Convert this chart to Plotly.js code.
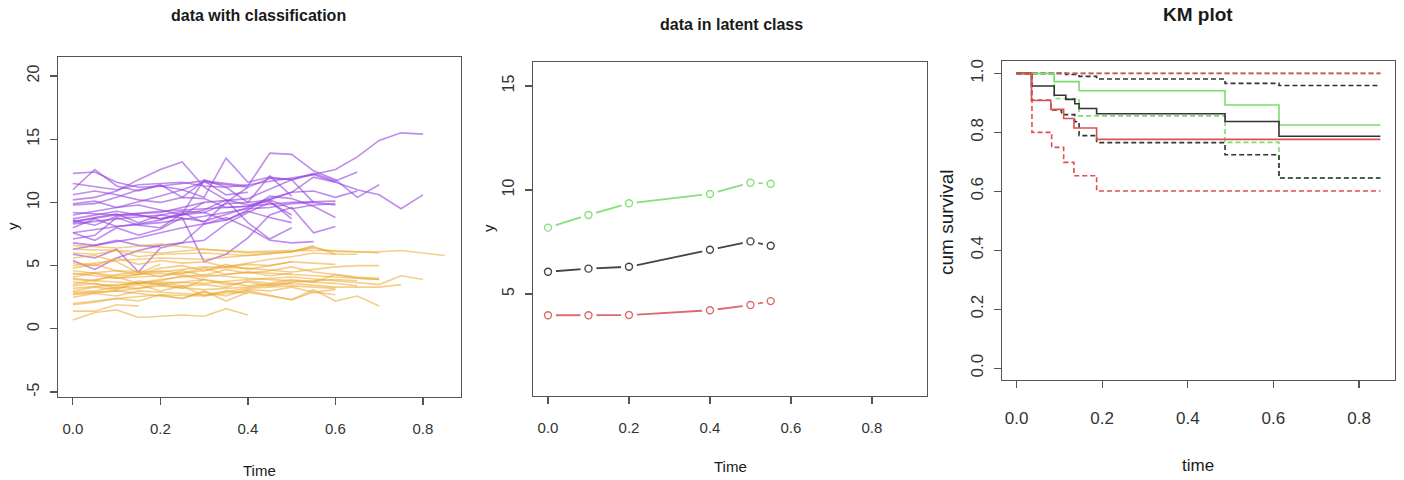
<!DOCTYPE html>
<html>
<head>
<meta charset="utf-8">
<script src="https://cdn.plot.ly/plotly-3.0.1.min.js"></script>
<style>html,body{margin:0;padding:0;background:#fff;}#chart{width:1404px;height:480px;}</style>
</head>
<body>
<div id="chart"></div>
<script>
// ---------- Panel 1: data with classification ----------
const purpleT = [
  [0,0.1,0.2,0.3,0.4,0.5,0.55,0.6,0.65,0.7,0.75,0.8],
  [0,0.05,0.1,0.15,0.2,0.25,0.3,0.35,0.4,0.45,0.5,0.55,0.6,0.65],
  [0,0.05,0.1,0.15,0.2,0.25,0.3,0.35,0.4],
  [0,0.05,0.1,0.15,0.2,0.25,0.3,0.35,0.4,0.45,0.5],
  [0,0.1,0.2,0.25,0.3,0.35,0.4,0.45,0.5,0.55,0.6],
  [0,0.05,0.1,0.15,0.2,0.3,0.4,0.45,0.5,0.55,0.6,0.65,0.7],
  [0,0.1,0.2,0.3,0.4,0.5,0.55,0.6,0.65,0.7,0.75,0.8],
  [0,0.05,0.1,0.15,0.2,0.25,0.3,0.35,0.4,0.45,0.5,0.55,0.6],
  [0,0.05,0.1,0.15,0.2,0.25,0.3,0.35,0.4,0.45,0.5,0.55,0.6],
  [0,0.05,0.1,0.15,0.2,0.25,0.3,0.35,0.4,0.45,0.5],
  [0,0.05,0.1,0.15,0.2,0.25,0.3,0.35,0.4,0.45,0.5,0.55,0.6],
  [0,0.05,0.1,0.15,0.2,0.25,0.3,0.35,0.4,0.45,0.5,0.55],
  [0,0.05,0.1,0.15,0.2,0.3,0.35,0.4,0.45,0.5],
  [0,0.05,0.1,0.2,0.3,0.35,0.4,0.45,0.5],
  [0,0.05,0.1,0.15,0.2,0.25,0.3,0.35,0.4,0.45,0.5],
  [0,0.05,0.1,0.15,0.2,0.25,0.3,0.35,0.4],
  [0,0.1,0.15,0.2,0.25,0.3,0.35,0.4,0.5,0.55,0.6],
  [0,0.05,0.1,0.15,0.2,0.25,0.3],
  [0,0.05,0.1,0.15,0.2],
  [0,0.05,0.1,0.2,0.3,0.4,0.5,0.6],
  [0,0.1,0.2,0.3,0.4,0.45,0.5,0.55],
  [0,0.05,0.1,0.15,0.2,0.25,0.3,0.35,0.4,0.45,0.5,0.55,0.6,0.65]
];
const purpleY = [
  [8.5,9.0,9.2,10.0,10.3,11.8,12.2,12.6,13.6,14.9,15.5,15.4],
  [12.3,12.4,11.6,11.2,11.3,11.0,11.6,11.4,11.2,11.9,11.8,12.3,11.7,12.4],
  [11.0,12.6,11.3,10.9,11.4,10.4,11.7,10.6,10.8],
  [10.2,10.4,10.9,11.8,12.6,13.2,11.2,10.2,9.8,10.1,8.7],
  [9.0,9.6,10.5,11.0,10.4,13.5,11.6,12.0,11.8,10.0,9.8],
  [9.8,9.9,10.4,11.0,11.3,11.7,11.3,13.9,13.8,12.5,11.8,10.4,11.4],
  [8.3,8.7,9.0,8.5,9.6,10.8,12.0,11.6,11.0,10.6,9.5,10.6],
  [9.9,10.1,9.6,9.8,9.4,9.0,9.2,9.9,10.0,10.2,9.5,9.8,9.9],
  [8.4,8.8,9.1,8.4,9.0,9.3,9.2,8.6,9.4,10.5,10.3,9.7,8.8],
  [5.9,5.6,6.3,4.5,6.4,6.8,8.3,8.6,9.3,8.8,8.4],
  [7.6,7.0,8.0,7.4,7.9,8.8,5.3,5.9,7.2,9.0,9.6,7.6,8.1],
  [6.8,6.6,6.9,7.2,7.6,8.0,8.3,8.8,8.0,7.0,6.8,6.9],
  [5.4,4.7,5.6,6.2,6.6,7.0,8.3,9.2,10.0,9.0],
  [8.7,9.0,9.3,8.7,9.4,10.2,8.4,7.1,8.0],
  [7.1,7.4,8.8,8.2,8.0,9.1,11.8,11.2,10.0,12.1,10.5],
  [8.0,8.7,8.1,8.3,8.6,9.2,8.4,10.0,11.2],
  [11.5,11.0,11.4,11.5,11.6,11.3,11.2,11.4,11.9,12.2,11.6],
  [8.6,8.2,8.9,9.0,8.7,9.0,10.0],
  [6.3,6.6,7.0,6.6,6.5],
  [9.2,9.1,9.0,9.3,9.5,9.7,10.0,10.1],
  [7.6,8.1,8.4,8.9,9.5,9.6,9.9,10.0],
  [10.6,10.9,10.6,10.2,10.0,10.4,10.3,9.6,9.7,10.3,10.8,10.9,10.4,10.9]
];
const orangeT = [
  [0,0.1,0.2,0.3,0.4,0.5,0.55,0.6,0.7,0.75,0.8,0.85],
  [0,0.1,0.2,0.3,0.4,0.5,0.6,0.7,0.75,0.8],
  [0,0.1,0.2,0.3,0.4,0.5,0.6,0.7,0.75],
  [0,0.1,0.2,0.3,0.4,0.5,0.6,0.65,0.7],
  [0,0.1,0.2,0.3,0.4,0.5,0.6,0.7],
  [0,0.1,0.2,0.3,0.4,0.5,0.55,0.6,0.65,0.7],
  [0,0.1,0.2,0.3,0.4,0.5,0.55,0.6,0.65],
  [0,0.05,0.1,0.15,0.2,0.25,0.3,0.35,0.4],
  [0,0.05,0.1,0.15],
  [0,0.05,0.1,0.15,0.2,0.3,0.4,0.5,0.6],
  [0,0.1,0.2,0.3,0.4,0.5,0.6,0.65],
  [0,0.05,0.1,0.15,0.2,0.25,0.3,0.35,0.4,0.45,0.5,0.55,0.6],
  [0,0.05,0.1,0.15,0.2,0.25,0.3,0.35,0.4,0.45,0.5],
  [0,0.05,0.1,0.15,0.2,0.25,0.3,0.35,0.4,0.45,0.5,0.55,0.6,0.65,0.7],
  [0,0.05,0.1,0.15,0.2,0.25,0.3,0.35,0.4],
  [0,0.1,0.2,0.25,0.3,0.35,0.4,0.5,0.55,0.6],
  [0,0.05,0.1,0.15,0.2,0.3,0.4,0.5,0.55],
  [0,0.05,0.1,0.15,0.2,0.25,0.3,0.35,0.4,0.45,0.5],
  [0,0.1,0.2,0.3,0.4,0.5,0.6,0.65],
  [0,0.05,0.1,0.15,0.2],
  [0,0.05,0.1,0.15,0.2,0.25,0.3,0.35,0.4,0.45,0.5,0.55,0.6,0.65,0.7],
  [0,0.1,0.2,0.3,0.35,0.4,0.5,0.6],
  [0,0.05,0.1,0.15,0.2,0.25,0.3],
  [0,0.05,0.1,0.15,0.2,0.25,0.3,0.35,0.4,0.45,0.5,0.55,0.6],
  [0,0.1,0.2,0.3,0.4,0.5,0.6,0.7],
  [0,0.05,0.1,0.15,0.2,0.25,0.3,0.35,0.4,0.45,0.5]
];
const orangeY = [
  [5.0,5.4,5.6,5.5,5.8,6.1,6.4,6.1,6.1,6.2,6.0,5.8],
  [3.2,3.5,3.7,3.6,3.9,4.1,3.8,3.5,4.2,3.9],
  [2.8,3.0,3.4,3.1,3.3,3.6,3.3,3.3,3.5],
  [4.3,4.6,4.5,4.9,4.8,4.5,4.9,5.0,5.0],
  [4.6,4.2,4.4,4.1,4.5,4.3,4.1,3.9],
  [2.0,2.4,2.7,2.6,3.0,2.3,3.1,2.2,2.6,1.8],
  [6.6,6.4,6.7,6.3,6.0,6.1,6.5,5.9,5.9],
  [0.7,1.3,1.5,0.9,1.0,1.1,1.0,1.6,1.1],
  [1.4,1.4,1.9,1.8],
  [2.5,2.8,2.6,3.0,2.9,2.7,3.2,3.4,3.2],
  [3.7,3.4,3.9,4.3,4.0,3.8,3.6,3.4],
  [5.2,5.0,5.6,5.1,5.4,5.2,5.3,4.9,5.2,5.5,5.7,6.0,5.9],
  [3.0,3.3,3.1,3.8,3.5,3.2,3.9,3.5,3.7,3.4,3.6],
  [4.0,3.8,4.3,4.5,4.1,4.6,4.2,4.7,4.4,4.6,4.9,4.5,4.3,4.1,4.0],
  [3.4,3.6,3.2,3.5,3.0,3.4,2.6,3.0,2.8],
  [2.7,3.0,2.6,2.4,3.0,2.2,2.9,2.3,2.9,2.7],
  [6.0,5.9,6.2,5.7,5.9,6.0,5.8,6.1,6.6],
  [4.8,5.1,4.6,4.3,4.8,5.0,4.6,4.9,5.1,5.0,5.3],
  [3.9,3.7,3.5,3.9,3.4,3.7,3.9,3.8],
  [5.6,5.8,5.3,4.4,5.1],
  [2.9,3.0,3.3,3.2,3.6,3.4,3.5,3.3,3.8,3.6,3.9,3.7,4.3,4.0,3.9],
  [4.4,4.0,4.2,4.6,5.1,4.7,5.3,5.1],
  [3.5,3.9,4.1,3.6,3.8,4.2,3.9],
  [1.9,2.1,2.4,2.2,2.7,2.4,2.9,2.6,3.1,3.0,3.3,2.9,3.1],
  [6.3,6.2,6.0,6.3,6.1,6.2,6.2,6.0],
  [4.1,4.4,4.0,4.3,4.6,4.4,4.8,4.3,4.5,4.2,4.4]
];
const leftYTicks = [-5, 0, 5, 10, 15, 20];
const leftYLabels = ['-5', '0', '5', '10', '15', '20'];

// ---------- Panel 2: data in latent class ----------
const latentTime = [0, 0.1, 0.2, 0.4, 0.5, 0.55];
const latentGreen = [8.19, 8.80, 9.36, 9.81, 10.35, 10.30];
const latentBlack = [6.07, 6.22, 6.31, 7.13, 7.53, 7.32];
const latentRed   = [3.98, 3.98, 3.99, 4.22, 4.47, 4.66];

// ---------- Panel 3: KM plot ----------
const kmGreenT   = [0, 0.088, 0.146, 0.487, 0.613, 0.85];
const kmGreenS   = [1.0, 0.972, 0.941, 0.893, 0.825, 0.825];
const kmGreenLoT = [0, 0.088, 0.146, 0.487, 0.613, 0.85];
const kmGreenLo  = [1.0, 0.915, 0.856, 0.766, 0.645, 0.645];
const kmGreenHiT = [0, 0.85];
const kmGreenHi  = [1.0, 1.0];

const kmBlackT   = [0, 0.035, 0.088, 0.115, 0.136, 0.146, 0.187, 0.487, 0.613, 0.85];
const kmBlackS   = [1.0, 0.957, 0.926, 0.912, 0.897, 0.881, 0.863, 0.837, 0.787, 0.787];
const kmBlackLoT = [0, 0.035, 0.08, 0.105, 0.136, 0.146, 0.187, 0.487, 0.613, 0.85];
const kmBlackLo  = [1.0, 0.909, 0.876, 0.860, 0.836, 0.789, 0.765, 0.724, 0.645, 0.645];
const kmBlackHiT = [0, 0.115, 0.146, 0.187, 0.487, 0.613, 0.85];
const kmBlackHi  = [1.0, 0.996, 0.99, 0.981, 0.966, 0.959, 0.959];

const kmRedT   = [0, 0.035, 0.08, 0.11, 0.134, 0.187, 0.85];
const kmRedS   = [1.0, 0.908, 0.878, 0.847, 0.815, 0.776, 0.776];
const kmRedLoT = [0, 0.036, 0.082, 0.11, 0.134, 0.187, 0.85];
const kmRedLo  = [1.0, 0.80, 0.749, 0.698, 0.653, 0.601, 0.601];
const kmRedHiT = [0, 0.85];
const kmRedHi  = [1.0, 1.0];

const xTicks = [0, 0.2, 0.4, 0.6, 0.8];

// ---------- styling ----------
const SANS = "'Liberation Sans', Arial, Helvetica, sans-serif";
const FRAME = '#555555';
const PURPLE = 'rgba(150,70,225,0.62)';
const ORANGE = 'rgba(235,165,45,0.55)';
const G2 = '#86e07a', K2 = '#444444', R2 = '#dd6a6a';
const G3 = '#7ddc6e', K3 = '#333333', R3 = '#dd5050';

const traces = [];
purpleT.forEach((t, i) => traces.push({x: t, y: purpleY[i], xaxis: 'x', yaxis: 'y', mode: 'lines',
  line: {color: PURPLE, width: 1.6}, hoverinfo: 'skip', showlegend: false}));
orangeT.forEach((t, i) => traces.push({x: t, y: orangeY[i], xaxis: 'x', yaxis: 'y', mode: 'lines',
  line: {color: ORANGE, width: 1.6}, hoverinfo: 'skip', showlegend: false}));

// R type="b": line segments with gaps around open circles
[[latentGreen, G2], [latentBlack, K2], [latentRed, R2]].forEach(([ys, c]) => {
  traces.push({x: latentTime, y: ys, xaxis: 'x2', yaxis: 'y2', mode: 'lines+markers',
    line: {color: c, width: 1.8},
    marker: {symbol: 'circle', size: 16, color: '#ffffff', line: {width: 0}},
    showlegend: false, hoverinfo: 'skip'});
  traces.push({x: latentTime, y: ys, xaxis: 'x2', yaxis: 'y2', mode: 'markers',
    marker: {symbol: 'circle-open', size: 7, color: c, line: {width: 1.4, color: c}}, showlegend: false, hoverinfo: 'skip'});
});

function km(x, y, color, dash) {
  return {x: x, y: y, xaxis: 'x3', yaxis: 'y3', mode: 'lines',
    line: {shape: 'hv', color: color, width: 1.6, dash: dash || 'solid'}, showlegend: false, hoverinfo: 'skip'};
}
traces.push(km(kmGreenLoT, kmGreenLo, G3, '5px,3px'));
traces.push(km(kmGreenHiT, kmGreenHi, G3, '5px,3px'));
traces.push(km(kmBlackLoT, kmBlackLo, K3, '5px,3px'));
traces.push(km(kmBlackHiT, kmBlackHi, K3, '5px,3px'));
traces.push(km(kmRedLoT, kmRedLo, R3, '5px,3px'));
traces.push(km(kmRedHiT, kmRedHi, R3, '5px,3px'));
traces.push(km(kmGreenT, kmGreenS, G3));
traces.push(km(kmBlackT, kmBlackS, K3));
traces.push(km(kmRedT, kmRedS, R3));

const W = 1404, H = 480;
function dx(a, b) { return [a / W, b / W]; }
function dy(top, bottom) { return [1 - bottom / H, 1 - top / H]; }

function xax(domain, range, anchor, fs, standoff) {
  return {domain: domain, range: range, anchor: anchor, tickvals: xTicks, tickformat: '.1f',
    showline: true, mirror: true, linecolor: FRAME, linewidth: 1.4, ticks: 'outside', ticklen: 7,
    tickwidth: 1.2, tickcolor: FRAME, showgrid: false, zeroline: false, ticklabelstandoff: standoff,
    tickfont: {family: SANS, size: fs, color: '#333'}, fixedrange: true};
}
function yax(domain, range, anchor, vals, labels, fs) {
  return {domain: domain, range: range, anchor: anchor, tickvals: vals, ticktext: labels,
    showline: true, mirror: true, linecolor: FRAME, linewidth: 1.4, ticks: 'outside', ticklen: 7,
    tickwidth: 1.2, tickcolor: FRAME, showgrid: false, zeroline: false, tickangle: -90, ticklabelstandoff: 4,
    tickfont: {family: SANS, size: fs, color: '#333'}, fixedrange: true};
}

function ann(text, x, y, size, bold, rot) {
  return {text: bold ? '<b>' + text + '</b>' : text, x: x / W, y: 1 - y / H, xref: 'paper', yref: 'paper',
    xanchor: 'center', yanchor: 'middle', showarrow: false, textangle: rot || 0,
    font: {family: SANS, size: size, color: '#1a1a1a'}};
}

const layout = {
  width: W, height: H, margin: {l: 0, r: 0, t: 0, b: 0},
  paper_bgcolor: '#ffffff', plot_bgcolor: '#ffffff', showlegend: false,
  xaxis: xax(dx(58, 461), [-0.034, 0.887], 'y', 15, 11),
  yaxis: yax(dy(57, 397), [-5.39, 21.5], 'x', leftYTicks, leftYLabels, 16),
  xaxis2: xax(dx(533, 927), [-0.037, 0.936], 'y2', 15, 11),
  yaxis2: yax(dy(62, 396), [0.1, 16.15], 'x2', [5, 10, 15], ['5', '10', '15'], 16),
  xaxis3: xax(dx(1002, 1395), [-0.034, 0.884], 'y3', 17, 15),
  yaxis3: yax(dy(61, 380), [-0.04, 1.042], 'x3', [0, 0.2, 0.4, 0.6, 0.8, 1.0], ['0.0', '0.2', '0.4', '0.6', '0.8', '1.0'], 17),
  annotations: [
    ann('data with classification', 258, 16, 16, true),
    ann('data in latent class', 731, 24, 16, true),
    ann('KM plot', 1198, 14, 19, true),
    ann('Time', 259, 470, 15, false),
    ann('Time', 730, 466, 15, false),
    ann('time', 1198, 465, 17, false),
    ann('y', 12, 226, 15, false, -90),
    ann('y', 488, 228, 15, false, -90),
    ann('cum survival', 946, 222, 19, false, -90)
  ]
};

Plotly.newPlot('chart', traces, layout, {staticPlot: true, displayModeBar: false});
</script>
</body>
</html>
